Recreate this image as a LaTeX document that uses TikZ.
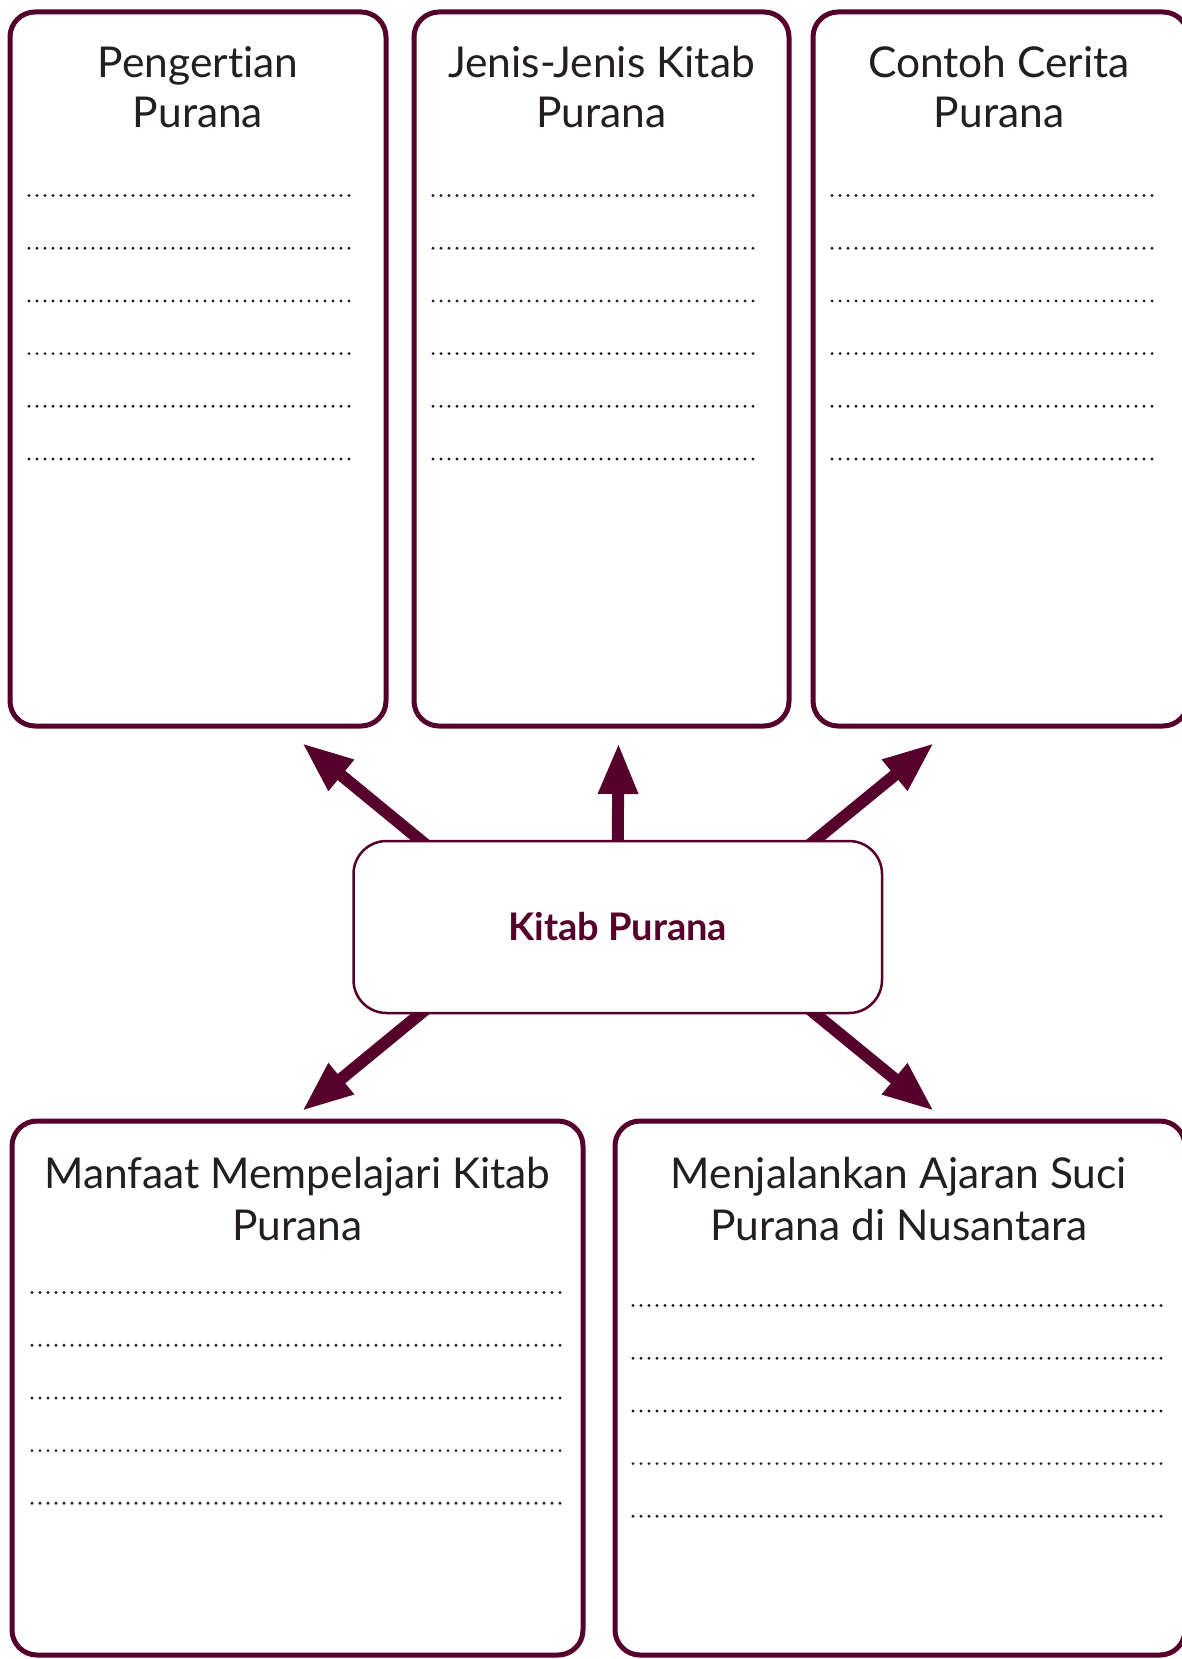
\documentclass[tikz,border=0pt]{standalone}
\usepackage{fontspec}
\setmainfont{Lato}[Ligatures={NoCommon}]
\usetikzlibrary{arrows.meta,calc,backgrounds}
\definecolor{maroon}{RGB}{86,0,44}
\definecolor{ink}{RGB}{35,31,32}
\definecolor{dotc}{RGB}{30,30,30}
\begin{document}
\begin{tikzpicture}[x=1pt,y=-1pt,
  panel/.style={draw=maroon, line width=5pt, rounded corners=25pt, inner sep=0pt, fill=white},
  hub/.style={draw=maroon, line width=2.5pt, rounded corners=33pt, inner sep=0pt, fill=white,
    minimum width=528.5pt, minimum height=172pt, text=maroon, font=\fontsize{38}{44}\selectfont\bfseries},
  ttl/.style={anchor=base, text=ink, inner sep=0pt, font=\fontsize{42.5}{50}\selectfont},
  fillin/.style={draw=dotc, line width=3.2pt, line cap=round, dash pattern=on 0pt off 8pt},
  link/.style={draw=maroon, line width=12pt, -{Triangle[length=51pt,width=37pt]}}
]
\useasboundingbox (0,0) rectangle (1182,1659);

% panels
\node[panel, minimum width=376pt, minimum height=714pt] (p1) at (198,369) {};
\node[panel, minimum width=375pt, minimum height=714pt] (p2) at (601.5,369) {};
\node[panel, minimum width=375pt, minimum height=714pt] (p3) at (1000.5,369) {};
\node[panel, minimum width=571pt, minimum height=534pt] (p4) at (297.5,1388) {};
\node[panel, minimum width=570pt, minimum height=534pt] (p5) at (900,1388) {};

% titles
\node[ttl] (t1a) at (198,78) {Pengertian};
\node[ttl] (t1b) at (198,128) {Purana};
\node[ttl] (t2a) at (601.5,78) {Jenis-Jenis Kitab};
\node[ttl] (t2b) at (601.5,128) {Purana};
\node[ttl] (t3a) at (999,78) {Contoh Cerita};
\node[ttl] (t3b) at (999,128) {Purana};
\node[ttl] (t4a) at (297.5,1188) {Manfaat Mempelajari Kitab};
\node[ttl] (t4b) at (297.5,1240.7) {Purana};
\node[ttl] (t5a) at (899,1188) {Menjalankan Ajaran Suci};
\node[ttl] (t5b) at (899,1240.7) {Purana di Nusantara};

% dotted writing lines
\foreach \y in {195.5,248.2,300.9,353.6,406.3,459} {
  \draw[fillin] (29,\y) -- (355,\y);
  \draw[fillin] (433,\y) -- (759,\y);
  \draw[fillin] (832,\y) -- (1158,\y);
}
\foreach \y in {1292.5,1345.2,1397.9,1450.6,1503.3} {
  \draw[fillin] (32,\y) -- (564,\y);
}
\foreach \y in {1305.5,1358.2,1410.9,1463.6,1516.3} {
  \draw[fillin] (633,\y) -- (1165,\y);
}

% central node
\node[hub] (hub) at (617.75,927) {Kitab Purana};

% arrow ends
\coordinate (a1s) at ($(hub.north)+(-198,0)$);
\coordinate (a2s) at ($(hub.north)+(0,0)$);
\coordinate (a3s) at ($(hub.north)+(198,0)$);
\coordinate (a4s) at ($(hub.south)+(-198,0)$);
\coordinate (a5s) at ($(hub.south)+(198,0)$);
\coordinate (a1e) at (302,743);
\coordinate (a2e) at (618.5,743);
\coordinate (a3e) at (934,743);
\coordinate (a4e) at (302,1111);
\coordinate (a5e) at (934,1111);

\begin{pgfonlayer}{background}
\draw[link] ($(a1s)!-25pt!(a1e)$) -- (a1e);
\draw[link] ($(a2s)!-25pt!(a2e)$) -- (a2e);
\draw[link] ($(a3s)!-25pt!(a3e)$) -- (a3e);
\draw[link] ($(a4s)!-25pt!(a4e)$) -- (a4e);
\draw[link] ($(a5s)!-25pt!(a5e)$) -- (a5e);
\end{pgfonlayer}
\end{tikzpicture}
\end{document}
